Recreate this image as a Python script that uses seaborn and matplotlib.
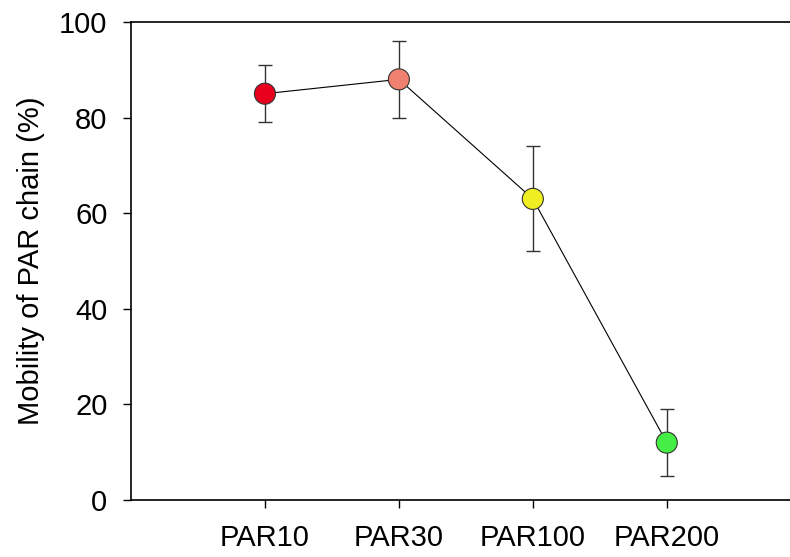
import matplotlib
matplotlib.use("Agg")
import matplotlib.pyplot as plt
import seaborn as sns
import pandas as pd

# data
samples = ["PAR10", "PAR30", "PAR100", "PAR200"]
mobility = [85, 88, 63, 12]
err_low = [6, 8, 11, 7]
err_high = [6, 8, 11, 7]
point_colors = ["#E8001C", "#F08070", "#EEEE22", "#44EE44"]

sns.set_style("white")
plt.rcParams["font.family"] = ["Liberation Sans", "DejaVu Sans"]
plt.rcParams["text.color"] = "black"
plt.rcParams["axes.labelcolor"] = "black"
plt.rcParams["xtick.color"] = "black"
plt.rcParams["ytick.color"] = "black"

df = pd.DataFrame({"pos": range(len(samples)), "sample": samples, "mobility": mobility})

fig = plt.figure(figsize=(7.9, 5.57), dpi=100)
ax = fig.add_axes([131 / 790, 57 / 557, 659 / 790, 478 / 557])

sns.lineplot(data=df, x="pos", y="mobility", color="black", linewidth=0.8, ax=ax, zorder=1)
ax.errorbar(df["pos"], df["mobility"], yerr=[err_low, err_high], fmt="none",
            ecolor="#333333", elinewidth=1.0, capsize=5, capthick=1.0, zorder=2)
sns.scatterplot(data=df, x="pos", y="mobility", hue="sample", palette=point_colors,
                s=230, edgecolor="#333333", linewidth=0.8, legend=False, ax=ax, zorder=3)

ax.set_xlim(-1, 3.92)
ax.set_ylim(0, 100)
ax.set_xticks(df["pos"])
ax.set_xticklabels(samples)
ax.set_yticks([0, 20, 40, 60, 80, 100])
ax.set_xlabel("")
ax.set_ylabel("Mobility of PAR chain (%)", fontsize=21, labelpad=10)
ax.tick_params(axis="both", labelsize=21, length=6, width=1, direction="out")
ax.tick_params(axis="y", pad=11)
ax.tick_params(axis="x", pad=11)
ax.yaxis.set_ticks_position("left")
ax.xaxis.set_ticks_position("bottom")

for side in ["left", "top", "bottom"]:
    ax.spines[side].set_color("black")
    ax.spines[side].set_linewidth(1.2)
ax.spines["right"].set_visible(False)

fig.savefig("out.png", dpi=100)
